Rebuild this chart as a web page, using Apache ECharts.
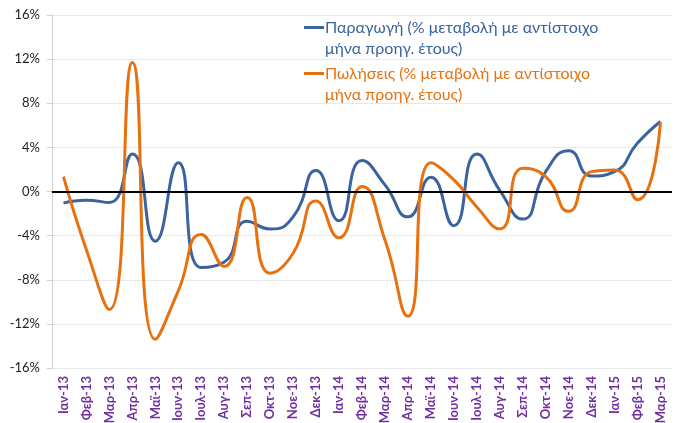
<!DOCTYPE html>
<html>
<head>
<meta charset="utf-8">
<script src="https://cdn.jsdelivr.net/npm/echarts@6/dist/echarts.min.js"></script>
<style>
    html, body { margin: 0; padding: 0; background: #fff; }
    #chart { width: 679px; height: 423px; }
</style>
</head>
<body>
<div id="chart"></div>
<script>
const months = ['Ιαν-13', 'Φεβ-13', 'Μαρ-13', 'Απρ-13', 'Μαϊ-13', 'Ιουν-13', 'Ιουλ-13', 'Αυγ-13', 'Σεπ-13',
    'Οκτ-13', 'Νοε-13', 'Δεκ-13', 'Ιαν-14', 'Φεβ-14', 'Μαρ-14', 'Απρ-14', 'Μαϊ-14', 'Ιουν-14', 'Ιουλ-14',
    'Αυγ-14', 'Σεπ-14', 'Οκτ-14', 'Νοε-14', 'Δεκ-14', 'Ιαν-15', 'Φεβ-15', 'Μαρ-15']

// Παραγωγή
const production = [-1.05, -0.8, -1.0, 3.4, -4.5, 2.6, -6.9, -6.4, -2.7, -3.4, -2.3, 1.9, -2.65, 2.8,
    0.6, -2.3, 1.3, -3.1, 3.4, 0.1, -2.5, 1.8, 3.7, 1.4, 1.8, 4.4, 6.35]
// Πωλήσεις
const sales = [1.35, -5.3, -10.7, 11.7, -13.4, -9.0, -3.9, -6.8, -0.55, -7.4, -5.6, -0.85, -4.2, 0.45,
    -4.4, -11.3, 2.6, 1.05, -1.4, -3.4, 2.1, 1.35, -1.8, 1.8, 1.95, -0.75, 6.3]

const BLUE = '#3b63a0'
const ORANGE = '#e8710f'
const prodName = 'Παραγωγή (% μεταβολή με αντίστοιχο\nμήνα προηγ. έτους)'
const salesName = 'Πωλήσεις (% μεταβολή με αντίστοιχο\nμήνα προηγ. έτους)'

// legend line sits on the first text line: line at the top of a taller box
const legendIcon = 'path://M0,0L20,0L20,3L0,3Z M0,24L0.01,24L0.01,24.01Z'

const chart = echarts.init(document.getElementById('chart'))
chart.setOption({
    animation: false,
    textStyle: {fontFamily: 'Lato'},
    grid: {left: 52, right: 7, top: 15, bottom: 55, outerBoundsMode: 'none'},
    legend: {
        orient: 'vertical',
        left: 299,
        top: 12,
        itemWidth: 20,
        itemHeight: 24,
        itemGap: 4,
        icon: legendIcon,
        data: [
            {name: prodName, textStyle: {color: BLUE}},
            {name: salesName, textStyle: {color: ORANGE}}
        ],
        textStyle: {fontSize: 16, lineHeight: 21, fontFamily: 'Lato', padding: [0, 0, 0, -4]}
    },
    xAxis: {
        type: 'category',
        data: months,
        boundaryGap: true,
        axisLine: {lineStyle: {color: '#e4e4e4'}},
        axisTick: {show: false},
        axisLabel: {
            rotate: 90,
            interval: 0,
            color: '#7030a0',
            fontWeight: 'bold',
            fontSize: 13,
            margin: 8
        }
    },
    yAxis: {
        type: 'value',
        min: -16,
        max: 16,
        interval: 4,
        axisLine: {show: true, lineStyle: {color: '#d0d0d0'}},
        axisTick: {show: true, length: 5, lineStyle: {color: '#d0d0d0'}},
        axisLabel: {formatter: '{value}%', color: '#222', fontSize: 13, margin: 12},
        splitLine: {lineStyle: {color: '#e8e8e8'}}
    },
    series: [
        {
            name: prodName,
            type: 'line',
            data: production,
            smooth: 0.55,
            symbol: 'none',
            lineStyle: {color: BLUE, width: 3},
            itemStyle: {color: BLUE},
            markLine: {
                silent: true,
                symbol: 'none',
                label: {show: false},
                lineStyle: {color: '#000', width: 2, type: 'solid'},
                data: [{yAxis: 0}]
            },
            z: 3
        },
        {
            name: salesName,
            type: 'line',
            data: sales,
            smooth: 0.55,
            symbol: 'none',
            lineStyle: {color: ORANGE, width: 3},
            itemStyle: {color: ORANGE},
            z: 4
        }
    ]
})
</script>
</body>
</html>
